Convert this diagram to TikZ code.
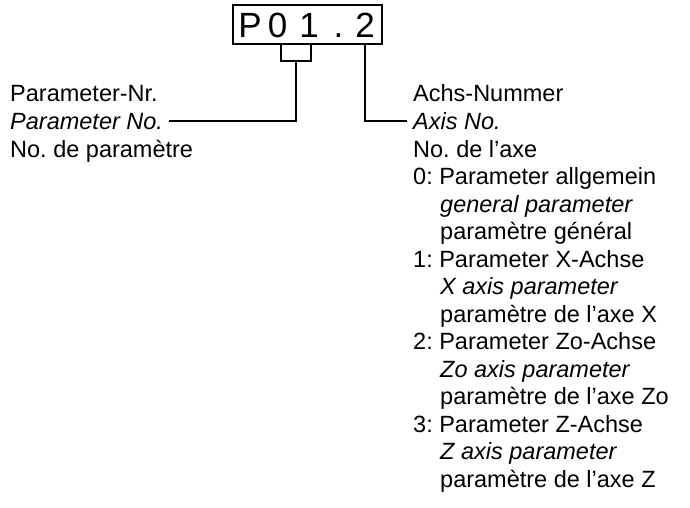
\documentclass[tikz,border=0pt]{standalone}
\usepackage{fontspec}
\setmainfont{Liberation Sans}
\frenchspacing
\begin{document}
\begin{tikzpicture}[x=1pt,y=-1pt,
  txt/.style={anchor=base west, inner sep=0pt, font=\fontsize{23.5}{28}\selectfont},
  itx/.style={anchor=base west, inner sep=0pt, font=\fontsize{23.5}{28}\selectfont\itshape},
  big/.style={anchor=base, inner sep=0pt, font=\fontsize{35}{40}\selectfont},
  ln/.style={line width=1.1pt, line cap=rect}]
\useasboundingbox (0,0) rectangle (690,508);
% box
\node[draw, line width=1.1pt, minimum width=149pt, minimum height=39pt, inner sep=0pt] (box) at (307.5,24.5) {};
\node[big] (cP) at (250,38) {P};
\node[big] (c0) at (277.5,38) {0};
\node[big] (c1) at (309,38) {1};
\node[big] (cd) at (338.5,38) {.};
\node[big] (c2) at (365,38) {2};
% connectors
\coordinate (bl) at (281,44);
\coordinate (br) at (311,44);
\coordinate (bm) at (296,61);
\coordinate (lend) at (170,121);
\coordinate (rtop) at (365,44);
\coordinate (rend) at (406,121);
\draw[ln] (bl) |- (bm) -| (br);
\draw[ln] (bm) |- (lend);
\draw[ln] (rtop) |- (rend);
% left text
\node[txt] (l1) at (10,102) {Parameter-Nr.};
\node[itx] (l2) at (10,129.5) {Parameter No.};
\node[txt] (l3) at (10,157) {No. de paramètre};
% right text
\node[txt] (r0) at (413,102) {Achs-Nummer};
\node[itx] (r1) at (413,129.5) {Axis No.};
\node[txt] (r2) at (413,157) {No. de l’axe};
\node[txt] (r3) at (413,184.5) {0: Parameter allgemein};
\node[itx] (r4) at (440,212) {general parameter};
\node[txt] (r5) at (440,239.5) {paramètre général};
\node[txt] (r6) at (413,267) {1: Parameter X-Achse};
\node[itx] (r7) at (440,294.5) {X axis parameter};
\node[txt] (r8) at (440,322) {paramètre de l’axe X};
\node[txt] (r9) at (413,349.5) {2: Parameter Zo-Achse};
\node[itx] (r10) at (440,377) {Zo axis parameter};
\node[txt] (r11) at (440,404.5) {paramètre de l’axe Zo};
\node[txt] (r12) at (413,432) {3: Parameter Z-Achse};
\node[itx] (r13) at (440,459.5) {Z axis parameter};
\node[txt] (r14) at (440,487) {paramètre de l’axe Z};
\end{tikzpicture}
\end{document}
